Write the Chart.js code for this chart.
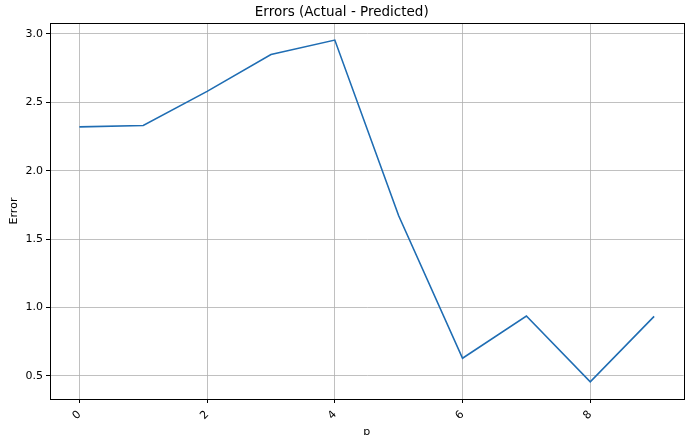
<!DOCTYPE html>
<html><head><meta charset="utf-8">
<script src="https://cdn.jsdelivr.net/npm/chart.js@4"></script>
<style>html,body{margin:0;padding:0;background:#fff}#wrap{width:700px;height:435px}</style>
</head><body><div id="wrap"><canvas id="c"></canvas></div>
<script>
const xValues = [0,1,2,3,4,5,6,7,8,9];
const errorValues = [2.32,2.33,2.58,2.85,2.955,1.67,0.628,0.937,0.456,0.934];
const xTicks = [0,2,4,6,8];
const yTicks = [0.5,1.0,1.5,2.0,2.5,3.0];
const titleText = 'Errors (Actual - Predicted)';
const xTitle = 'p';
const yTitle = 'Error';

const framePlugin = {
  id:'frame',
  afterDatasetsDraw(chart){
    const a = chart.chartArea, ctx = chart.ctx;
    ctx.save(); ctx.strokeStyle='#000'; ctx.lineWidth=1;
    ctx.strokeRect(Math.round(a.left)+0.5, Math.round(a.top)+0.5, Math.round(a.right-a.left), Math.round(a.bottom-a.top));
    ctx.restore();
  }
};
const font = {family:'DejaVu Sans', size:11};
new Chart(document.getElementById('c'), {
  type:'line',
  data:{datasets:[{data:xValues.map((x,i)=>({x:x,y:errorValues[i]})), borderColor:'#1f6db3', borderWidth:1.6, pointRadius:0, tension:0, fill:false}]},
  options:{
    responsive:true, maintainAspectRatio:false, animation:false,
    layout:{padding:{left:0,right:16.5,top:0,bottom:0}},
    plugins:{legend:{display:false}, tooltip:{enabled:false},
      title:{display:true,text:titleText,color:'#000',font:{family:'DejaVu Sans',size:13.5,weight:'normal'},padding:{top:4.5,bottom:2.3}}},
    scales:{
      x:{type:'linear', min:-0.46, max:9.46,
        afterBuildTicks(s){s.ticks = xTicks.map(v=>({value:v}));},
        afterFit(s){s.height=36;},
        ticks:{color:'#000',font:font,maxRotation:45,minRotation:45,padding:5},
        grid:{color:'#b0b0b0',lineWidth:0.8,tickLength:4,tickColor:'#000',tickWidth:1},
        border:{color:'#000',width:1},
        title:{display:true,text:xTitle,color:'#000',font:font,padding:{top:0,bottom:-4}}},
      y:{type:'linear', min:0.33, max:3.08,
        afterBuildTicks(s){s.ticks = yTicks.map(v=>({value:v}));},
        afterFit(s){s.width=50;},
        ticks:{color:'#000',font:font,padding:3,callback:v=>v.toFixed(1)},
        grid:{color:'#b0b0b0',lineWidth:0.8,tickLength:4,tickColor:'#000',tickWidth:1},
        border:{color:'#000',width:1},
        title:{display:true,text:yTitle,color:'#000',font:font,padding:{top:8,bottom:2}}}
    }
  },
  plugins:[framePlugin]
});
</script></body></html>
